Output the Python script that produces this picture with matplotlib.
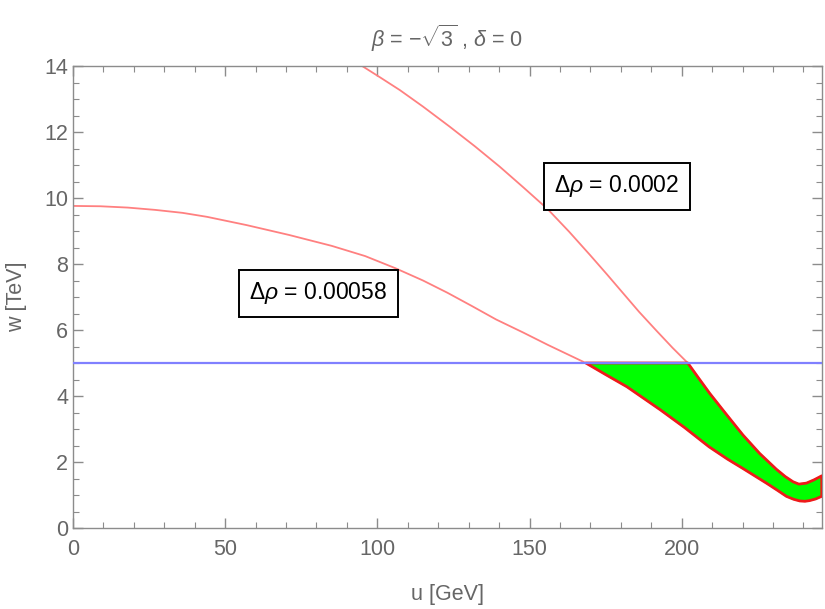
import numpy as np
import matplotlib
matplotlib.use("Agg")
import matplotlib.pyplot as plt
from matplotlib.ticker import MultipleLocator

plt.rcParams['font.family'] = ['Liberation Sans', 'DejaVu Sans']
plt.rcParams['mathtext.fontset'] = 'custom'
plt.rcParams['mathtext.rm'] = 'Liberation Sans'
plt.rcParams['mathtext.it'] = 'Liberation Sans:italic'
plt.rcParams['mathtext.bf'] = 'Liberation Sans:bold'

# Curve for Delta rho = 0.00058 (lower boundary)
u_a = [0, 9, 18, 27, 36, 44, 57, 71, 85, 96, 106, 115, 123, 131, 139, 148, 156,
       168.5, 175, 182, 193, 201, 209, 215, 220, 224, 228, 231.5, 234.4, 236.8,
       238.8, 240.5, 242, 244, 246]
w_a = [9.76, 9.75, 9.71, 9.64, 9.55, 9.43, 9.18, 8.88, 8.55, 8.24, 7.87, 7.50,
       7.13, 6.73, 6.32, 5.92, 5.55, 5.0, 4.65, 4.28, 3.58, 3.04, 2.46, 2.09,
       1.81, 1.58, 1.35, 1.14, 0.96, 0.87, 0.82, 0.81, 0.83, 0.88, 0.96]

# Curve for Delta rho = 0.0002 (upper boundary)
u_b = [95, 101, 107.4, 115, 123.8, 132, 140.2, 148, 156, 163, 170, 175.5, 180.7,
       186, 191.7, 197, 202, 205.5, 209.2, 214.7, 220.1, 225.6, 231.1, 234,
       236.6, 238.5, 241, 243.5, 246]
w_b = [14.0, 13.65, 13.27, 12.77, 12.16, 11.57, 10.95, 10.32, 9.66, 8.98, 8.26,
       7.68, 7.12, 6.55, 5.98, 5.46, 5.0, 4.55, 4.08, 3.44, 2.82, 2.26, 1.78,
       1.56, 1.40, 1.33, 1.36, 1.46, 1.58]

w_cut = 5.0
labels = [r'$\Delta\rho$ = 0.00058', r'$\Delta\rho$ = 0.0002']
label_pos = [(80.6, 7.11), (178.7, 10.35)]

u_a = np.array(u_a); w_a = np.array(w_a)
u_b = np.array(u_b); w_b = np.array(w_b)

fig = plt.figure(figsize=(8.25, 6.09), dpi=100)
ax = fig.add_axes([0.0885, 0.133, 0.9075, 0.7586])

gray = '#666666'
frame = '#8c8c8c'

ax.plot(u_a, w_a, color='#ff8080', lw=1.3, zorder=2, solid_joinstyle='round')
ax.plot(u_b, w_b, color='#ff8080', lw=1.3, zorder=2, solid_joinstyle='round')

ma = w_a <= w_cut + 1e-9
mb = w_b <= w_cut + 1e-9
poly_u = np.concatenate([u_a[ma], u_b[mb][::-1]])
poly_w = np.concatenate([w_a[ma], w_b[mb][::-1]])
ax.fill(poly_u, poly_w, facecolor='#00ff00', edgecolor='#ee1a1a', lw=2.0,
        joinstyle='round', zorder=3)

ax.axhline(w_cut, color='#8080ff', lw=1.6, zorder=4)

for txt, (x, y) in zip(labels, label_pos):
    ax.text(x, y, txt, fontsize=16.5, color='black', ha='center', va='center',
            zorder=6,
            bbox=dict(boxstyle='square,pad=0.45', facecolor='white',
                      edgecolor='black', lw=1.4))

ax.set_xlim(0, 246)
ax.set_ylim(0, 14)
ax.xaxis.set_major_locator(MultipleLocator(50))
ax.xaxis.set_minor_locator(MultipleLocator(10))
ax.yaxis.set_major_locator(MultipleLocator(2))
ax.yaxis.set_minor_locator(MultipleLocator(0.5))
ax.tick_params(which='both', direction='in', top=True, right=True,
               color=frame, labelcolor=gray, labelsize=15.5)
ax.tick_params(which='major', length=7, width=1)
ax.tick_params(which='minor', length=4, width=0.8)
ax.tick_params(axis='x', pad=8)
for s in ax.spines.values():
    s.set_color(frame)
    s.set_linewidth(1.0)

ax.set_xlabel('u [GeV]', fontsize=15.5, color=gray, labelpad=17)
ax.set_ylabel('w [TeV]', fontsize=15.5, color=gray, labelpad=12)
ax.set_title(r'$\beta$ = $-\sqrt{3}$ , $\delta$ = 0', fontsize=15.5, color=gray, pad=14)

fig.savefig('out.png', dpi=100)
